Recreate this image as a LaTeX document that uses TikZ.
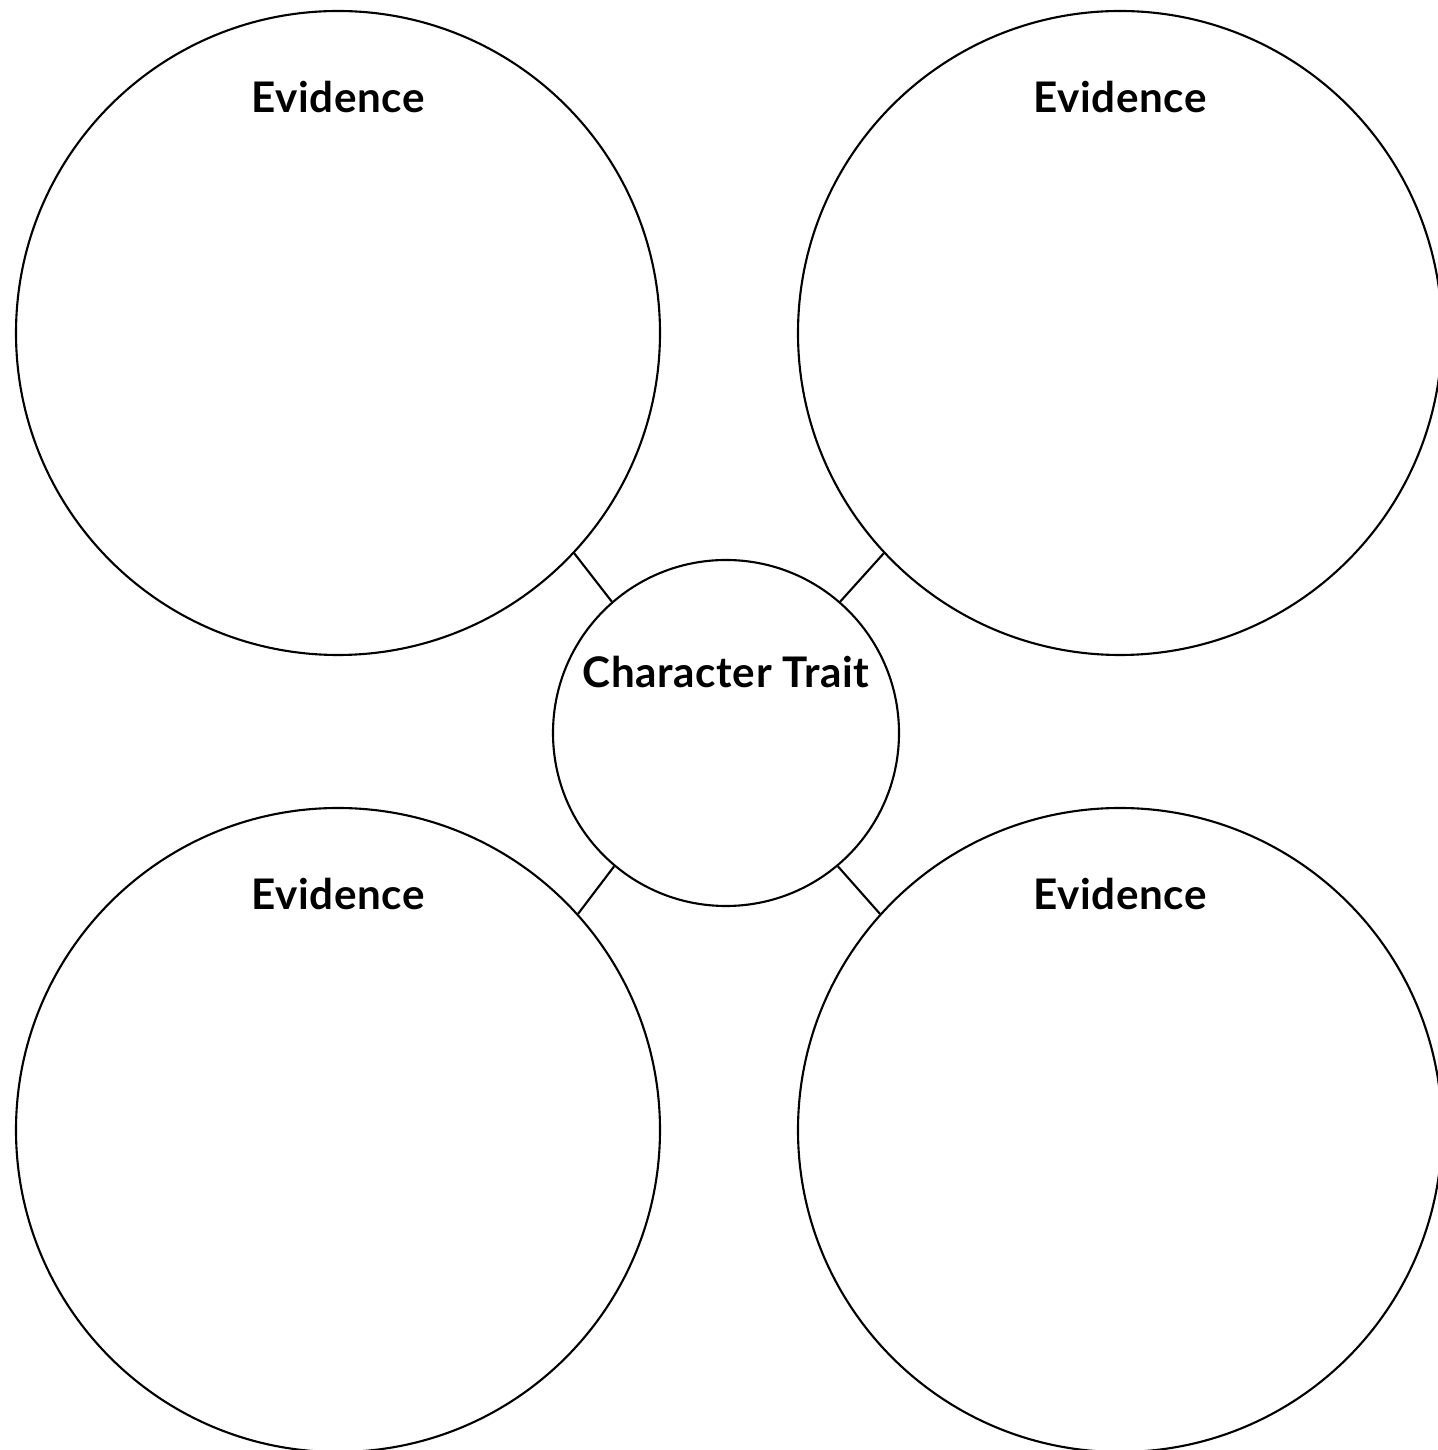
\documentclass[tikz,border=0pt]{standalone}
\usepackage{fontspec}
\setmainfont{Lato}
\usepackage{tikz}
\usetikzlibrary{positioning}

\begin{document}
\begin{tikzpicture}[line width=1.2pt,
    evidence/.style={circle,draw,minimum size=12.88cm,inner sep=0pt},
    trait/.style={circle,draw,minimum size=6.92cm,inner sep=0pt},
    heading/.style={font=\fontsize{24}{29}\selectfont\bfseries\addfontfeature{LetterSpace=1.5},inner sep=0pt}]
    \useasboundingbox (0,0) rectangle (28.76,29);
    \node[trait] (t) at (14.52,14.34) {};
    \node[evidence] (e_1) at (6.76,22.34) {};
    \node[evidence] (e_2) at (22.4,22.34) {};
    \node[evidence] (e_3) at (6.76,6.4) {};
    \node[evidence] (e_4) at (22.4,6.4) {};
    % labels
    \node[heading] (h_t) at ([yshift=-2.26cm]t.north) {Character Trait};
    \node[heading] (h_1) at ([yshift=-1.74cm]e_1.north) {Evidence};
    \node[heading] (h_2) at ([yshift=-1.74cm]e_2.north) {Evidence};
    \node[heading] (h_3) at ([yshift=-1.74cm]e_3.north) {Evidence};
    \node[heading] (h_4) at ([yshift=-1.74cm]e_4.north) {Evidence};
    % connectors
    \draw (e_1.-43) -- (t.131);
    \draw (e_2.223) -- (t.49);
    \draw (e_3.42) -- (t.230);
    \draw (e_4.138) -- (t.310);
\end{tikzpicture}
\end{document}
